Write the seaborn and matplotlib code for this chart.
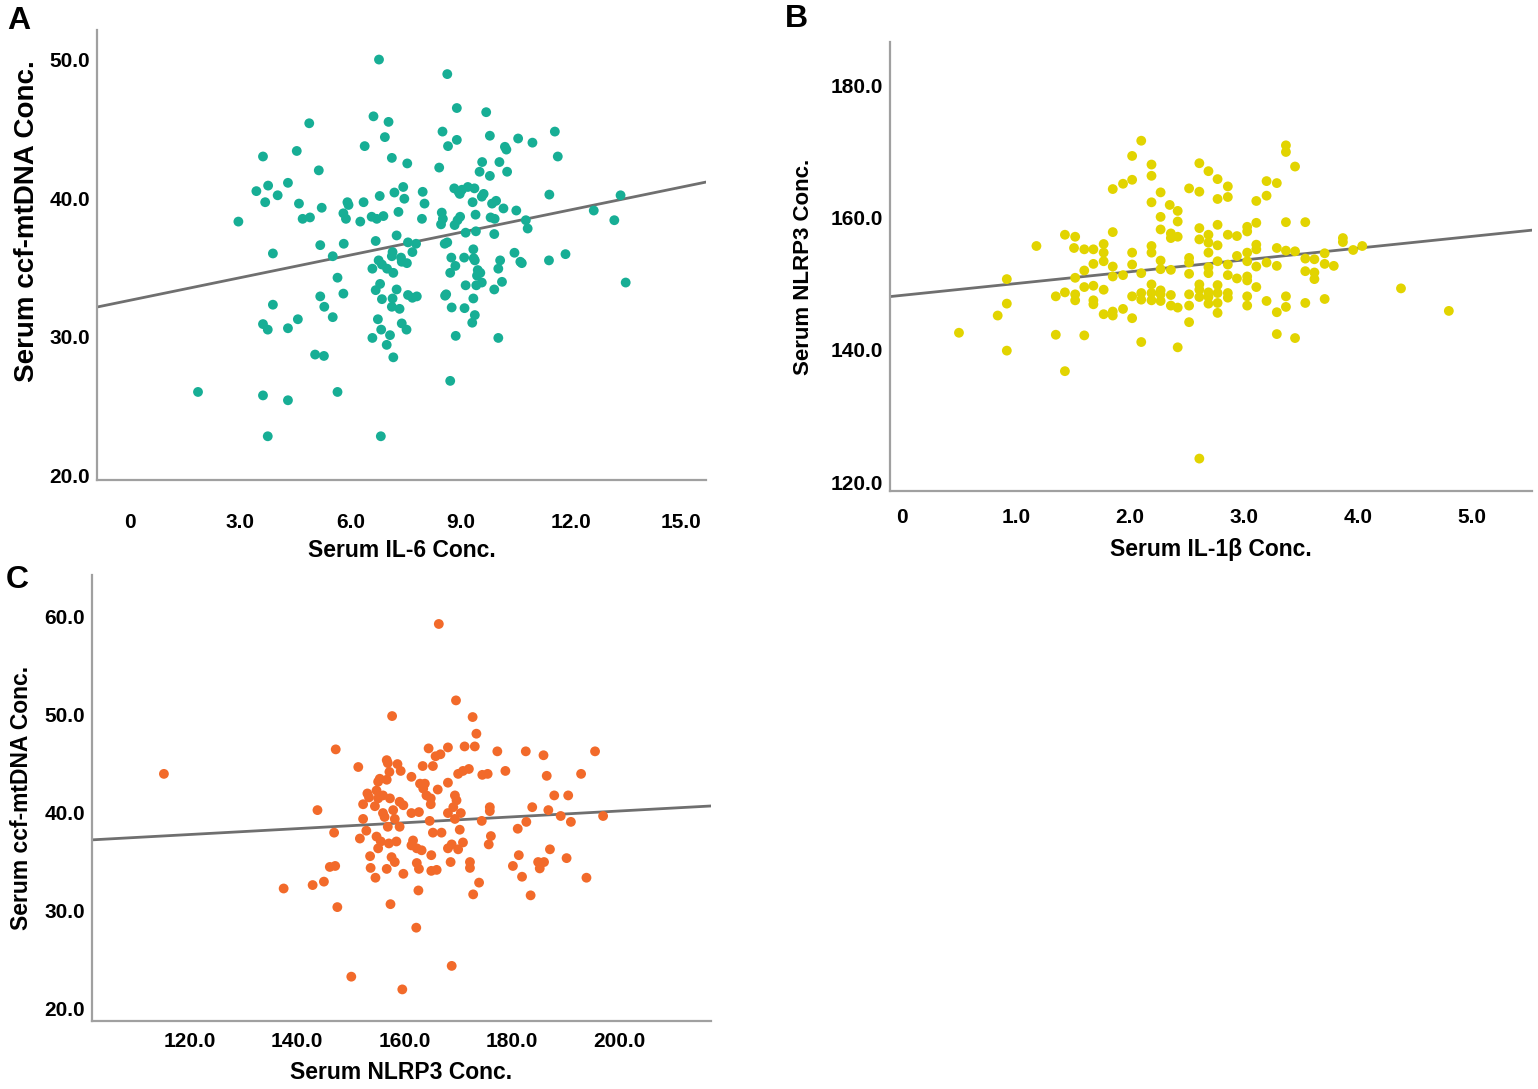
import numpy as np
import pandas as pd
import seaborn as sns
import matplotlib
matplotlib.use("Agg")
import matplotlib.pyplot as plt

# (IL-6, ccf-mtDNA)
il6_mtdna = [
    (6.78, 50.0), (4.88, 45.4), (6.63, 45.9), (7.04, 45.5), (6.94, 44.4), (3.62, 43.0), (4.54, 43.4),
    (6.39, 43.75), (7.13, 42.9), (7.55, 42.5), (5.14, 42.0), (3.44, 40.5), (3.76, 40.9), (3.68, 39.7),
    (4.02, 40.2), (4.30, 41.1), (4.60, 39.6), (4.70, 38.5), (4.90, 38.6), (5.22, 39.3), (2.95, 38.3),
    (5.92, 39.7), (5.95, 39.5), (5.81, 38.9), (5.88, 38.5), (6.36, 39.7), (6.27, 38.3), (6.58, 38.65),
    (6.72, 38.5), (6.90, 38.7), (6.80, 40.15), (7.20, 40.4), (7.44, 40.8), (7.47, 39.95), (7.97, 40.45),
    (8.02, 39.6), (7.95, 38.5), (7.31, 39.0), (3.89, 36.0), (5.18, 36.6), (5.82, 36.7), (5.52, 35.8),
    (6.69, 36.9), (7.26, 37.3), (7.57, 36.8), (7.79, 36.7), (7.69, 36.1), (7.15, 36.1), (7.13, 35.8),
    (7.38, 35.7), (7.54, 35.3), (7.40, 35.4), (6.77, 35.5), (6.86, 35.2), (6.60, 34.9), (7.00, 34.9),
    (7.17, 34.6), (5.65, 34.25), (6.81, 33.8), (6.69, 33.35), (7.26, 33.4), (5.81, 33.1), (5.18, 32.9),
    (6.86, 32.7), (7.15, 32.75), (7.57, 33.0), (7.69, 32.8), (7.81, 32.9), (3.89, 32.3), (5.29, 32.15),
    (7.13, 32.15), (7.34, 32.0), (5.52, 31.4), (3.62, 30.9), (3.75, 30.5), (4.30, 30.6), (4.57, 31.25),
    (6.75, 31.25), (7.40, 30.95), (7.53, 30.5), (6.84, 30.5), (7.08, 30.1), (6.60, 29.9), (6.99, 29.4),
    (7.17, 28.5), (5.04, 28.7), (5.28, 28.6), (3.62, 25.75), (4.30, 25.4), (5.65, 26.0), (3.75, 22.8),
    (6.83, 22.8), (8.64, 48.95), (8.90, 46.5), (9.70, 46.2), (8.51, 44.8), (8.90, 44.2), (8.66, 43.75),
    (9.80, 44.5), (10.21, 43.7), (10.25, 43.5), (10.57, 44.3), (10.96, 44.0), (11.57, 44.8), (11.65, 43.0),
    (8.42, 42.2), (9.59, 42.6), (9.52, 41.9), (10.06, 42.6), (10.27, 41.9), (9.80, 41.6), (8.83, 40.7),
    (8.95, 40.45), (9.04, 40.6), (9.20, 40.8), (9.38, 40.7), (8.98, 40.3), (9.63, 40.3), (9.58, 40.1),
    (9.33, 39.7), (9.97, 39.8), (9.86, 39.6), (10.17, 39.25), (10.52, 39.1), (11.42, 40.25), (13.36, 40.2),
    (8.49, 38.95), (8.52, 38.5), (8.47, 38.1), (8.84, 38.05), (8.92, 38.4), (8.99, 38.65), (9.41, 38.8),
    (9.82, 38.6), (9.93, 38.5), (10.78, 38.4), (10.83, 37.8), (12.63, 39.1), (13.19, 38.4), (9.14, 37.5),
    (9.42, 37.6), (9.92, 37.4), (8.57, 36.7), (8.64, 36.8), (9.35, 36.3), (8.75, 35.7), (9.10, 35.7),
    (9.36, 35.65), (9.39, 35.5), (8.86, 35.1), (10.08, 35.5), (10.03, 34.9), (10.47, 36.05), (10.63, 35.4),
    (10.67, 35.3), (11.41, 35.5), (11.86, 35.95), (8.72, 34.6), (9.47, 34.8), (9.54, 34.6), (9.45, 34.4),
    (9.14, 33.7), (9.43, 33.7), (9.58, 33.9), (10.13, 33.95), (9.92, 33.4), (13.50, 33.9), (8.61, 33.05),
    (8.58, 32.95), (9.35, 32.75), (8.76, 32.1), (9.11, 32.05), (9.39, 31.55), (9.32, 31.0), (8.87, 30.05),
    (10.03, 29.9), (8.72, 26.8), (1.85, 26.0),
]

# (IL-1beta, NLRP3)
il1b_nlrp3 = [
    (2.10, 171.6), (2.02, 169.3), (2.19, 168.0), (2.19, 166.3), (1.85, 164.3), (1.94, 165.1), (2.02, 165.7),
    (2.27, 163.8), (2.19, 162.3), (2.35, 161.9), (2.42, 161.0), (2.27, 160.1), (2.42, 159.4), (2.27, 158.2),
    (2.36, 157.6), (2.36, 156.9), (2.42, 157.1), (1.85, 157.8), (1.43, 157.4), (1.52, 157.1), (1.18, 155.7),
    (1.51, 155.4), (1.60, 155.2), (1.68, 155.2), (1.77, 156.0), (1.77, 154.7), (1.77, 153.4), (1.68, 153.0),
    (1.60, 152.0), (1.52, 150.9), (1.85, 152.6), (1.85, 151.1), (1.94, 151.3), (2.02, 154.7), (2.02, 152.9),
    (2.10, 151.6), (2.19, 155.7), (2.19, 154.7), (2.27, 153.5), (2.27, 152.2), (2.36, 152.1), (0.92, 150.7),
    (0.92, 147.0), (0.84, 145.2), (0.50, 142.6), (0.92, 139.9), (1.35, 148.1), (1.43, 148.7), (1.52, 148.4),
    (1.52, 147.5), (1.60, 149.5), (1.68, 149.7), (1.77, 149.1), (1.68, 147.5), (1.68, 146.9), (1.77, 145.4),
    (1.85, 145.8), (1.85, 145.2), (1.94, 146.2), (2.02, 144.8), (2.02, 148.1), (2.10, 148.6), (2.10, 147.6),
    (2.19, 149.9), (2.19, 148.6), (2.19, 147.5), (2.27, 149.0), (2.27, 148.4), (2.27, 147.4), (2.36, 148.3),
    (2.36, 146.7), (2.42, 146.4), (1.35, 142.3), (1.60, 142.2), (2.10, 141.2), (2.42, 140.4), (1.43, 136.8),
    (3.37, 170.9), (3.37, 169.9), (3.45, 167.7), (2.61, 168.2), (2.69, 167.0), (2.77, 165.8), (2.86, 164.7),
    (2.52, 164.4), (2.61, 163.9), (2.77, 162.8), (2.86, 163.1), (3.20, 165.5), (3.29, 165.2), (3.20, 163.3),
    (3.11, 162.5), (2.61, 158.4), (2.69, 157.4), (2.77, 158.9), (2.86, 157.4), (2.94, 157.2), (3.03, 158.6),
    (3.03, 157.9), (3.11, 159.2), (3.37, 159.3), (3.54, 159.3), (2.61, 156.7), (2.69, 156.2), (2.77, 155.8),
    (2.69, 154.7), (2.52, 153.9), (2.52, 153.2), (2.77, 153.4), (2.86, 152.9), (2.94, 154.2), (3.03, 154.7),
    (3.03, 153.4), (3.11, 155.9), (3.11, 155.2), (3.11, 152.6), (3.20, 153.2), (3.29, 155.4), (3.29, 152.7),
    (3.37, 155.0), (3.45, 154.9), (3.54, 153.8), (3.62, 153.7), (3.71, 154.6), (3.71, 153.0), (3.79, 152.7),
    (3.87, 156.9), (3.87, 156.3), (3.96, 155.1), (4.04, 155.7), (3.54, 151.9), (3.62, 151.7), (3.62, 150.7),
    (4.38, 149.3), (2.69, 152.5), (2.69, 151.6), (2.52, 151.5), (2.86, 151.3), (2.94, 150.8), (3.03, 151.1),
    (3.03, 150.5), (2.61, 149.9), (2.61, 149.1), (2.77, 149.8), (3.11, 149.5), (2.52, 148.4), (2.61, 148.0),
    (2.69, 148.7), (2.69, 148.0), (2.69, 147.0), (2.77, 148.6), (2.77, 147.1), (2.86, 148.6), (2.86, 147.9),
    (3.03, 148.1), (3.03, 146.7), (3.20, 147.4), (3.37, 148.1), (3.37, 146.5), (3.29, 145.7), (3.54, 147.1),
    (3.71, 147.7), (2.52, 146.7), (2.77, 145.6), (2.52, 144.2), (3.29, 142.4), (3.45, 141.8), (2.61, 123.6),
    (4.80, 145.9),
]

# (NLRP3, ccf-mtDNA)
nlrp3_mtdna = [
    (115.2, 43.9), (147.2, 46.4), (143.8, 40.2), (146.9, 37.9), (146.1, 34.4), (147.1, 34.5), (137.5, 32.2),
    (142.9, 32.55), (145.0, 32.9), (147.5, 30.3), (150.1, 23.2), (151.4, 44.6), (156.7, 45.3), (156.9, 45.0),
    (158.7, 44.9), (159.3, 44.2), (157.2, 44.1), (155.4, 43.4), (155.1, 43.1), (156.7, 43.3), (161.3, 43.6),
    (163.4, 44.7), (165.3, 44.7), (164.5, 46.5), (165.8, 45.7), (166.7, 45.9), (168.1, 46.6), (171.2, 46.7),
    (170.0, 43.9), (170.9, 44.2), (172.0, 44.4), (162.9, 42.9), (163.8, 42.9), (163.5, 42.4), (166.2, 42.3),
    (168.1, 43.0), (164.1, 41.7), (164.9, 41.4), (164.9, 40.8), (169.4, 41.7), (169.7, 41.2), (169.1, 40.5),
    (153.1, 41.9), (153.4, 41.5), (154.8, 42.2), (155.1, 41.4), (156.0, 41.7), (154.5, 40.6), (152.3, 40.8),
    (157.3, 41.4), (159.1, 41.05), (159.8, 40.7), (157.9, 40.2), (156.0, 39.9), (156.3, 39.5), (158.2, 39.3),
    (152.3, 39.3), (161.3, 39.9), (162.7, 40.0), (164.7, 39.1), (168.1, 39.9), (170.5, 39.9), (169.4, 39.3),
    (156.9, 38.5), (159.1, 38.5), (152.9, 38.1), (151.7, 37.3), (154.8, 37.5), (155.6, 37.0), (157.1, 36.8),
    (158.5, 37.0), (155.1, 36.3), (153.6, 35.5), (157.6, 35.4), (158.2, 34.9), (153.7, 34.3), (154.6, 33.3),
    (156.7, 34.2), (159.8, 33.7), (161.6, 37.1), (161.3, 36.6), (162.3, 36.3), (163.2, 36.1), (165.0, 35.6),
    (162.3, 34.8), (162.7, 34.2), (165.0, 34.0), (166.0, 34.1), (162.6, 32.0), (165.3, 37.9), (166.9, 37.9),
    (170.3, 38.2), (170.9, 36.9), (168.8, 36.7), (168.1, 36.3), (170.0, 36.2), (168.6, 34.9), (172.2, 34.9),
    (172.2, 34.3), (166.4, 59.2), (169.6, 51.4), (157.7, 49.8), (172.7, 49.7), (173.4, 48.0), (173.1, 46.7),
    (177.3, 46.2), (182.6, 46.2), (185.9, 45.8), (195.5, 46.2), (178.8, 44.2), (186.5, 43.7), (192.9, 43.9),
    (174.5, 43.8), (175.5, 43.9), (187.9, 41.7), (190.5, 41.7), (175.9, 40.5), (175.9, 40.1), (183.8, 40.5),
    (186.8, 40.2), (189.1, 39.6), (191.0, 39.0), (197.0, 39.6), (174.4, 39.1), (182.7, 39.0), (181.1, 38.3),
    (176.1, 37.55), (175.7, 36.7), (187.1, 36.2), (190.2, 35.3), (181.3, 35.6), (184.9, 34.9), (186.0, 34.9),
    (185.2, 34.25), (180.2, 34.5), (181.9, 33.4), (193.9, 33.3), (183.5, 31.5), (173.9, 32.8), (172.8, 31.6),
    (157.4, 30.6), (162.2, 28.2), (168.8, 24.3), (159.6, 21.9),
]

# fitted lines as drawn in the figure (intercept, slope)
fit_a = (32.62, 0.544)
fit_b = (148.25, 1.78)
fit_c = (34.11, 0.030)

ticks_a_x = [0, 3, 6, 9, 12, 15]
ticks_a_y = [20, 30, 40, 50]
ticks_b_x = [0, 1, 2, 3, 4, 5]
ticks_b_y = [120, 140, 160, 180]
ticks_c_x = [120, 140, 160, 180, 200]
ticks_c_y = [20, 30, 40, 50, 60]


def fmt(v):
    return "0" if v == 0 else f"{v:.1f}"


def panel(fig, rect, pts, fit, color, xlabel, ylabel, xlim, ylim,
          xticks, yticks, xpad, xlabpad, ylabpad, ylabsize, ylab_y=0.5):
    ax = fig.add_axes(rect)
    df = pd.DataFrame(pts, columns=["x", "y"])
    sns.scatterplot(data=df, x="x", y="y", ax=ax, color=color, s=50,
                    edgecolor="none", linewidth=0, zorder=3)
    ax.axline((0, fit[0]), slope=fit[1], color="#6f6f6f", lw=2.0, zorder=2)
    ax.set_xlim(*xlim)
    ax.set_ylim(*ylim)
    ax.set_xticks(xticks)
    ax.set_xticklabels([fmt(v) for v in xticks])
    ax.set_yticks(yticks)
    ax.set_yticklabels([fmt(v) for v in yticks])
    ax.tick_params(axis="both", length=0, labelsize=15, colors="black")
    ax.tick_params(axis="x", pad=xpad)
    ax.tick_params(axis="y", pad=5)
    for t in ax.get_xticklabels() + ax.get_yticklabels():
        t.set_fontweight("bold")
    ax.set_xlabel(xlabel, fontsize=16.5, fontweight="bold", labelpad=xlabpad, color="black")
    ax.set_ylabel(ylabel, fontsize=ylabsize, fontweight="bold", labelpad=ylabpad, color="black")
    ax.yaxis.label.set_y(ylab_y)
    for s in ["top", "right"]:
        ax.spines[s].set_visible(False)
    for s in ["left", "bottom"]:
        ax.spines[s].set_color("#a0a0a0")
        ax.spines[s].set_linewidth(1.6)
    ax.grid(False)
    return ax


def main():
    sns.set_style("white")
    plt.rcParams["font.family"] = ["Liberation Sans", "DejaVu Sans"]
    plt.rcParams["text.color"] = "black"

    fig = plt.figure(figsize=(15.38, 10.89), dpi=100)

    panel(fig, [0.0631, 0.5592, 0.3960, 0.4132], il6_mtdna, fit_a, "#17AE95",
          "Serum IL-6 Conc.", "Serum ccf-mtDNA Conc.",
          (-0.90, 15.69), (19.64, 52.13), ticks_a_x, ticks_a_y, 24, 5, 7, 20, 0.575)
    panel(fig, [0.5787, 0.5491, 0.4174, 0.4123], il1b_nlrp3, fit_b, "#E2D400",
          "Serum IL-1\u03b2 Conc.", "Serum NLRP3 Conc.",
          (-0.105, 5.53), (118.7, 186.5), ticks_b_x, ticks_b_y, 12, 8, 12, 16)
    panel(fig, [0.0598, 0.0624, 0.4025, 0.4096], nlrp3_mtdna, fit_c, "#F26A2A",
          "Serum NLRP3 Conc.", "Serum ccf-mtDNA Conc.",
          (101.8, 217.1), (18.67, 64.2), ticks_c_x, ticks_c_y, 8, 7, 8, 16.5)

    for letter, x, y in [("A", 0.005, 0.981), ("B", 0.510, 0.983), ("C", 0.004, 0.467)]:
        fig.text(x, y, letter, fontsize=23, fontweight="bold", va="center", ha="left",
                 color="black")

    fig.savefig("out.png", dpi=100)


if __name__ == "__main__":
    main()
